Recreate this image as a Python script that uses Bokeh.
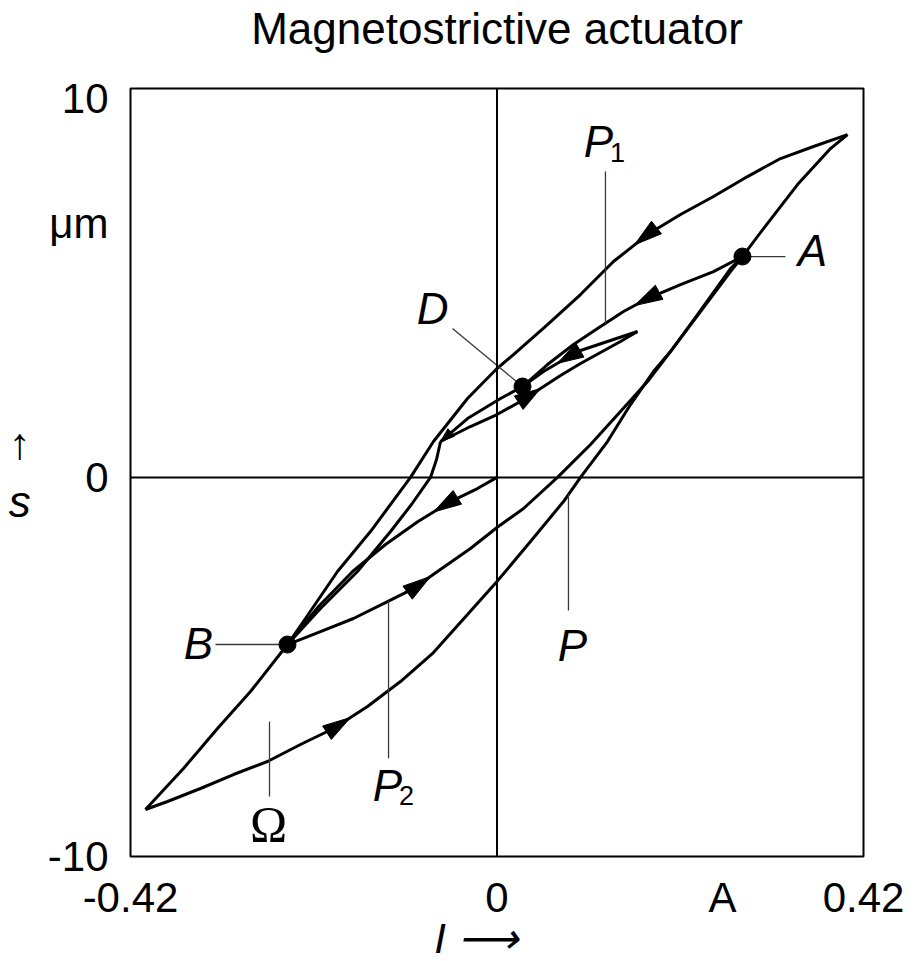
import numpy as np
from bokeh.plotting import figure
from bokeh.models import Span, FixedTicker, LinearAxis
from bokeh.core.properties import value
from bokeh.embed import file_html
from bokeh.resources import INLINE

# ---- measured branches: current I in A, stroke s in um ----
major_down_i = [0.4017, 0.3627, 0.3249, 0.2871, 0.2481, 0.2103, 0.1725, 0.1335, 0.0957, 0.0579,
                0.0189, 0.0, -0.0338, -0.0728, -0.0991, -0.1450, -0.1828, -0.2195, -0.2401,
                -0.2825, -0.3203, -0.3593, -0.4028]
major_down_s = [9.045, 8.729, 8.412, 7.937, 7.410, 6.935, 6.407, 5.695, 4.825, 4.033,
                3.242, 2.873, 2.081, 0.947, 0.0, -1.427, -2.482, -3.722, -4.408,
                -5.648, -6.624, -7.679, -8.760]

major_up_i = [-0.4028, -0.3776, -0.3398, -0.3020, -0.2630, -0.2252, -0.1874, -0.1484, -0.1106,
              -0.0728, -0.0338, 0.0, 0.0384, 0.0762, 0.0957, 0.1266, 0.1530, 0.1793, 0.1988,
              0.2298, 0.2676, 0.2813, 0.3054, 0.3444, 0.3822, 0.4017]
major_up_s = [-8.760, -8.549, -8.206, -7.837, -7.494, -7.046, -6.624, -6.043, -5.384,
              -4.619, -3.616, -2.746, -1.691, -0.636, 0.0, 0.947, 1.923, 2.793, 3.321,
              4.297, 5.510, 5.827, 6.566, 7.726, 8.676, 9.045]

initial_i = [0.0, -0.0224, -0.0533, -0.0905, -0.1278, -0.1655, -0.2045, -0.2401]
initial_s = [0.0, -0.293, -0.636, -1.163, -1.770, -2.482, -3.405, -4.408]

p2_i = [-0.2401, -0.2023, -0.1645, -0.1255, -0.0957, -0.0682, -0.0304, 0.0, 0.0304, 0.0693,
        0.1072, 0.1415, 0.1725, 0.1988, 0.2332, 0.2676, 0.2813]
p2_s = [-4.408, -4.065, -3.722, -3.274, -2.931, -2.482, -1.875, -1.322, -0.820, 0.0,
        0.868, 1.738, 2.530, 3.321, 4.376, 5.431, 5.827]

p1_i = [0.2813, 0.2481, 0.2103, 0.1725, 0.1450, 0.1152, 0.0877, 0.0579, 0.0292, 0.0040,
        -0.0338, -0.0647]
p1_s = [5.827, 5.431, 5.088, 4.719, 4.376, 3.928, 3.506, 2.978, 2.398, 2.081, 1.554, 0.947]

minor_up_i = [-0.0647, -0.0304, 0.0, 0.0269, 0.0499, 0.0728, 0.0957, 0.1186, 0.1415, 0.1610]
minor_up_s = [0.947, 1.343, 1.659, 2.002, 2.345, 2.688, 3.004, 3.295, 3.585, 3.849]

minor_down_i = [0.1610, 0.1266, 0.0923, 0.0533, 0.0292]
minor_down_s = [3.849, 3.585, 3.321, 2.793, 2.398]

return_i = [-0.0647, -0.0693, -0.0762, -0.0980, -0.1220, -0.1599, -0.2023, -0.2401]
return_s = [0.947, 0.473, 0.0, -0.714, -1.427, -2.482, -3.458, -4.408]

x_ticks = [-0.42, 0.0, 0.2584, 0.42]
x_tick_labels = ["-0.42", "0", "A", "0.42"]
y_ticks = [-10.0, 0.0, 6.70, 10.0]
y_tick_labels = ["-10", "0", "\u03bcm", "10"]

branches = {
    "major_down": (major_down_i, major_down_s),
    "major_up": (major_up_i, major_up_s),
    "initial": (initial_i, initial_s),
    "p2": (p2_i, p2_s),
    "p1": (p1_i, p1_s),
    "minor_up": (minor_up_i, minor_up_s),
    "minor_down": (minor_down_i, minor_down_s),
    "return": (return_i, return_s),
}

# direction markers: branch, current at the arrow tip, head length / half width (px)
arrow_marks = [
    ("major_down", 0.1576, 28, 8),
    ("major_up", -0.1679, 28, 8),
    ("initial", -0.0728, 28, 8),
    ("p2", -0.0762, 28, 8),
    ("p1", 0.1576, 28, 8),
    ("minor_down", 0.0693, 26, 8),
    ("minor_up", 0.0499, 26, 8),
    ("p1", -0.0647, 14, 5),
]

FONT = "Liberation Sans"
FW, FH = 733, 768
XR = (-0.42, 0.42)
YR = (-10.0, 10.26)
kx = FW / (XR[1] - XR[0])
ky = FH / (YR[1] - YR[0])


def point_on(bx, by, at):
    """Point of a branch at current `at` and the branch direction there (pixel space)."""
    for k in range(len(bx) - 1):
        a, b = bx[k], bx[k + 1]
        if a != b and min(a, b) <= at <= max(a, b):
            t = (at - a) / (b - a)
            y = by[k] + t * (by[k + 1] - by[k])
            ux, uy = (b - a) * kx, (by[k + 1] - by[k]) * ky
            n = np.hypot(ux, uy)
            return y, ux / n, uy / n
    raise ValueError(at)


def head(bx, by, at, length, half):
    ty, ux, uy = point_on(bx, by, at)
    cx = at - ux * length / kx
    cy = ty - uy * length / ky
    xs = [at, cx - uy * half / kx, cx + uy * half / kx]
    ys = [ty, cy + ux * half / ky, cy - ux * half / ky]
    return xs, ys


p = figure(frame_width=FW, frame_height=FH, x_range=XR, y_range=YR,
           min_border_left=130, min_border_right=54, min_border_top=87, min_border_bottom=106,
           output_backend="svg", toolbar_location=None, tools="")
p.background_fill_color = "white"
p.border_fill_color = "white"
p.outline_line_color = "black"
p.outline_line_width = 2
p.grid.visible = False

xa = p.below[0]
ya = p.left[0]

for ax, ticks, labels, standoff in ((xa, x_ticks, x_tick_labels, 11),
                                    (ya, y_ticks, y_tick_labels, 16)):
    ax.ticker = FixedTicker(ticks=ticks, minor_ticks=[])
    ax.major_label_overrides = dict(zip(ticks, labels))
    ax.axis_line_color = None
    ax.major_tick_line_color = None
    ax.minor_tick_line_color = None
    ax.major_label_text_font = FONT
    ax.major_label_text_font_size = "42px"
    ax.major_label_text_color = "black"
    ax.major_label_standoff = standoff
    ax.axis_label_text_font = FONT
    ax.axis_label_text_font_style = "italic"
    ax.axis_label_text_color = "black"

xa.axis_label = "I \u27f6\u2003"
xa.axis_label_text_font_size = "42px"
xa.axis_label_standoff = -9
ya.axis_label = "\u2191\ns"
ya.axis_label_orientation = "horizontal"
ya.axis_label_text_font_size = "44px"
ya.axis_label_standoff = 14

# heading carried by a bare axis above the frame
top = LinearAxis(ticker=FixedTicker(ticks=[], minor_ticks=[]),
                 axis_label="Magnetostrictive actuator",
                 axis_line_color=None, major_tick_line_color=None, minor_tick_line_color=None,
                 major_label_text_font_size="0px", major_label_standoff=0,
                 major_tick_out=0, major_tick_in=0,
                 axis_label_standoff=36, axis_label_text_font=FONT,
                 axis_label_text_font_size="44px", axis_label_text_font_style="normal",
                 axis_label_text_color="black")
p.add_layout(top, "above")

# zero lines through the origin
p.add_layout(Span(location=0, dimension="width", line_color="black", line_width=2))
p.add_layout(Span(location=0, dimension="height", line_color="black", line_width=2))

# hysteresis branches
for name, (bx, by) in branches.items():
    p.line(bx, by, line_color="black", line_width=3, line_join="round")

# arrow heads along the branches
hx, hy = [], []
for name, at, length, half in arrow_marks:
    xs, ys = head(*branches[name], at, length, half)
    hx.append(xs)
    hy.append(ys)
p.patches(hx, hy, fill_color="black", line_color="black", line_width=1)

# leader lines
pA = (p1_i[0], p1_s[0])
pB = (p2_i[0], p2_s[0])
pD = (minor_down_i[-1], minor_down_s[-1])
seg = {"x0": [], "y0": [], "x1": [], "y1": []}


def lead(x0, y0, x1, y1):
    for k, v in zip(("x0", "y0", "x1", "y1"), (x0, y0, x1, y1)):
        seg[k].append(v)


lead(pA[0], pA[1], 0.3306, pA[1])
lead(-0.3226, pB[1], pB[0], pB[1])
lead(-0.0510, 3.929, pD[0], pD[1])
lead(0.1243, 8.07, 0.1243, point_on(p1_i, p1_s, 0.1243)[0])
lead(0.0819, -3.51, 0.0819, point_on(major_up_i, major_up_s, 0.0819)[0])
lead(-0.1243, -7.41, -0.1243, point_on(p2_i, p2_s, -0.1243)[0])
lead(-0.2607, -6.44, -0.2607, -8.42)
p.segment(seg["x0"], seg["y0"], seg["x1"], seg["y1"], line_color="#3a3a3a", line_width=1.3)

# marked states A, B, D
p.scatter([pA[0], pB[0], pD[0]], [pA[1], pB[1], pD[1]], size=17,
          fill_color="black", line_color="black")


def names(xs, base_ys, texts, size, font=FONT, style="normal"):
    # the glyph anchor sits about 0.4 em above the letter baseline
    lift = 0.4 * size / ky
    p.text(x=xs, y=[b + lift for b in base_ys], text=texts,
           text_font=value(font), text_font_size=f"{size}px", text_font_style=style,
           text_align="center", text_baseline="alphabetic", text_color="black")


# point and branch names (baseline positions)
names([0.3616, -0.0739, -0.3421, 0.0865, 0.1163, -0.1255],
      [5.51, 3.98, -4.853, -4.907, 8.39, -8.60],
      ["A", "D", "B", "P", "P", "P"], 44, style="italic")
names([0.1381, -0.1037], [8.28, -8.68], ["1", "2"], 27)
names([-0.2619], [-9.66], ["\u03a9"], 50, font="Liberation Serif")

open("out.html", "w").write(file_html(p, INLINE))
